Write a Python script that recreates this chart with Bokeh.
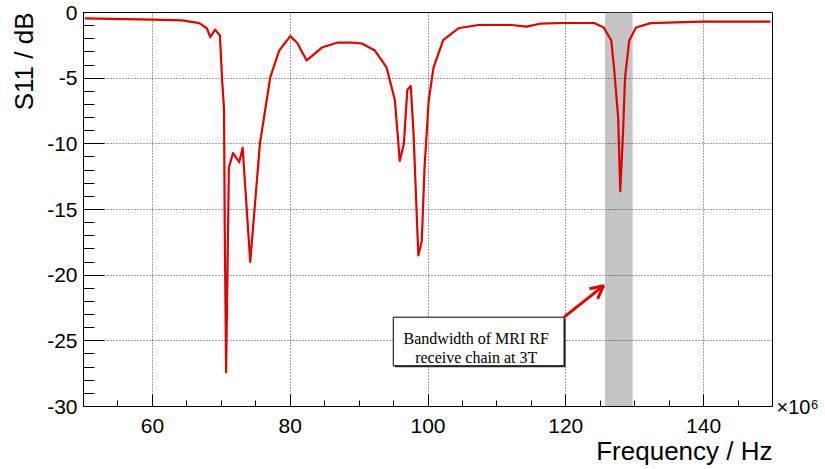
from bokeh.plotting import figure
from bokeh.models import (Range1d, SingleIntervalTicker, BoxAnnotation, Label,
                          Arrow, OpenHead, ColumnDataSource, LinearAxis,
                          NumeralTickFormatter, FixedTicker, Title)
from bokeh.embed import file_html
from bokeh.resources import INLINE

# ---- data (frequency in MHz i.e. Hz x 1e6, S11 in dB) ----
freq_mhz = [50.2, 60.0, 64.3, 66.8, 67.9, 68.4, 69.1, 69.8, 70.1, 70.4,
            70.5, 70.7, 71.1, 71.7, 72.6, 73.1, 74.2, 75.6, 77.1, 78.4,
            80.0, 81.0, 82.4, 84.6, 86.8, 88.9, 90.4, 92.3, 94.0, 95.2,
            95.9, 96.5, 97.0, 97.5, 97.9, 98.6, 99.1, 99.5, 100.1, 100.8,
            102.2, 104.4, 107.3, 112.1, 114.3, 116.4, 119.3, 124.1, 125.5, 126.6,
            127.0, 127.6, 127.9, 128.3, 128.6, 129.2, 130.2, 132.3, 139.6, 149.7]
s11_db = [-0.45, -0.55, -0.6, -0.81, -1.2, -1.88, -1.3, -1.75, -4.95, -7.46,
          -16.4, -27.4, -11.8, -10.7, -11.4, -10.3, -19.0, -10.0, -4.95, -2.9,
          -1.8, -2.3, -3.65, -2.67, -2.3, -2.3, -2.36, -2.9, -4.2, -6.7,
          -11.3, -10.0, -5.9, -5.6, -9.2, -18.5, -17.4, -11.8, -6.7, -4.2,
          -2.1, -1.2, -0.95, -0.95, -1.07, -0.84, -0.8, -0.8, -1.14, -2.13,
          -4.2, -8.0, -13.6, -9.2, -4.95, -2.13, -1.14, -0.81, -0.69, -0.7]

# MRI RF receive-chain bandwidth at 3T (MHz)
band_lo = 125.7
band_hi = 129.7

x_ticks_interval = 20
y_ticks_interval = 5

FONT = "Liberation Sans"
SERIF = "Liberation Serif"
RED = "#e00000"

p = figure(width=825, height=469, output_backend="svg", toolbar_location=None,
           x_range=Range1d(50, 150), y_range=Range1d(-30, 0),
           min_border_left=81, min_border_right=53, min_border_top=12,
           min_border_bottom=63)
p.background_fill_color = "white"
p.border_fill_color = "white"
p.outline_line_color = "black"
p.outline_line_width = 1

# axes
p.xaxis.ticker = SingleIntervalTicker(interval=x_ticks_interval, num_minor_ticks=4)
p.yaxis.ticker = SingleIntervalTicker(interval=y_ticks_interval, num_minor_ticks=5)
p.xaxis.formatter = NumeralTickFormatter(format="0")
p.yaxis.formatter = NumeralTickFormatter(format="0")
for ax in (p.xaxis[0], p.yaxis[0]):
    ax.axis_line_color = "black"
    ax.major_tick_line_color = "black"
    ax.minor_tick_line_color = "black"
    ax.major_tick_out = 0
    ax.minor_tick_out = 0
    ax.major_label_text_font = FONT
    ax.major_label_text_font_size = "21px"
    ax.major_label_text_color = "black"
p.xaxis.major_tick_in = 12
p.xaxis.minor_tick_in = 6
p.yaxis.major_tick_in = 21
p.yaxis.minor_tick_in = 11
p.xaxis.major_label_standoff = 12
p.yaxis.major_label_standoff = 6

# axis titles (right/top aligned like the reference)
p.add_layout(Title(text="Frequency / Hz", align="right", text_font=FONT,
                   text_font_size="26px", text_font_style="normal",
                   text_color="black", standoff=-4), "below")
p.add_layout(Title(text="S11 / dB", align="right", text_font=FONT,
                   text_font_size="26px", text_font_style="normal",
                   text_color="black", standoff=12), "left")

# exponent label shown right of the frame, at the bottom
exp_axis = LinearAxis(axis_label="\u00d710\u2076", axis_line_color=None,
                      ticker=FixedTicker(ticks=[]),
                      major_tick_line_color=None, minor_tick_line_color=None,
                      axis_label_orientation="horizontal", axis_label_align="start",
                      axis_label_text_font=FONT, axis_label_text_font_size="20px",
                      axis_label_text_font_style="normal", axis_label_text_color="black",
                      axis_label_standoff=4, major_label_standoff=0)
p.add_layout(exp_axis, "right")

# grid
for g in (p.xgrid[0], p.ygrid[0]):
    g.grid_line_color = "black"
    g.grid_line_alpha = 0.75
    g.grid_line_dash = "1 2"
    g.grid_line_width = 1

# band
band = BoxAnnotation(left=band_lo, right=band_hi, fill_color="#c4c4c4",
                     fill_alpha=1.0, line_color=None, level="image")
p.add_layout(band)

# curve
src = ColumnDataSource(dict(f=freq_mhz, s=s11_db))
p.line("f", "s", source=src, line_color=RED, line_width=2.2, line_join="round")

# annotation box (with a thin shadow)
box_l, box_r, box_t, box_b = 94.96, 119.75, -23.2, -26.9
p.quad(left=[box_l + 0.22], right=[box_r + 0.22], top=[box_t - 0.11], bottom=[box_b - 0.11],
       fill_color="#333333", line_color=None)
p.quad(left=[box_l], right=[box_r], top=[box_t], bottom=[box_b],
       fill_color="white", line_color="black", line_width=1)
for txt, yy in (("Bandwidth of MRI RF", -24.83), ("receive chain at 3T", -26.29)):
    p.add_layout(Label(x=107.0, y=yy, text=txt, text_align="center",
                       text_baseline="alphabetic", text_font=SERIF,
                       text_font_size="16px", text_color="black"))

p.add_layout(Arrow(end=OpenHead(size=13, line_color=RED, line_width=3),
                   x_start=box_r, y_start=box_t, x_end=125.5, y_end=-20.8,
                   line_color=RED, line_width=3))

open("out.html", "w").write(file_html(p, INLINE))
